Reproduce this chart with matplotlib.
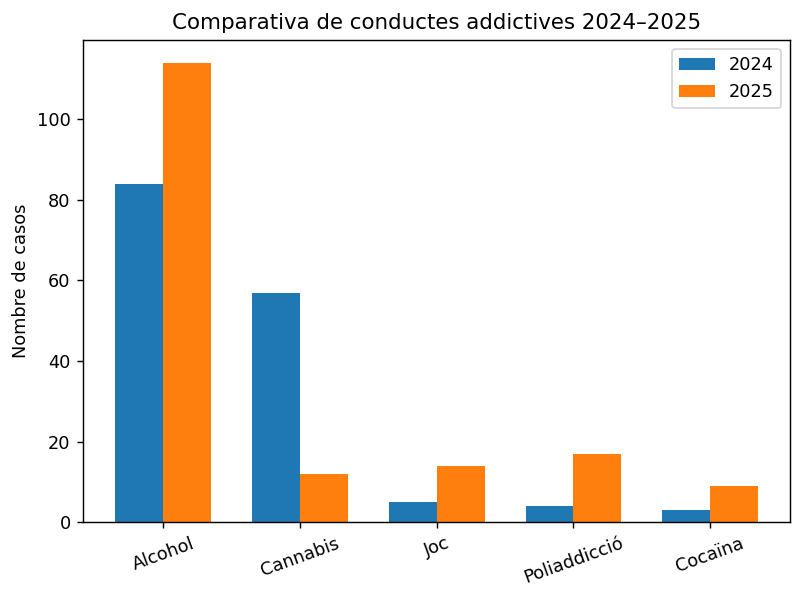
import numpy as np
import matplotlib.pyplot as plt

categories = ["Alcohol", "Cannabis", "Joc", "Poliaddicció", "Cocaïna"]
casos_2024 = [84, 57, 5, 4, 3]
casos_2025 = [114, 12, 14, 17, 9]

x = np.arange(len(categories))
width = 0.35

# dpi més alt perquè el text surti més gran, com a la referència
dpi = 128
fig, ax = plt.subplots(figsize=(799 / dpi, 599 / dpi), dpi=dpi)
ax.bar(x - width / 2, casos_2024, width, label="2024")
ax.bar(x + width / 2, casos_2025, width, label="2025")

ax.set_title("Comparativa de conductes addictives 2024–2025")
ax.set_ylabel("Nombre de casos")
ax.set_xticks(x)
ax.set_xticklabels(categories, rotation=20)
ax.legend()

fig.subplots_adjust(left=0.104, right=0.989, top=0.933, bottom=0.1285)
fig.savefig("out.png", dpi=dpi)
